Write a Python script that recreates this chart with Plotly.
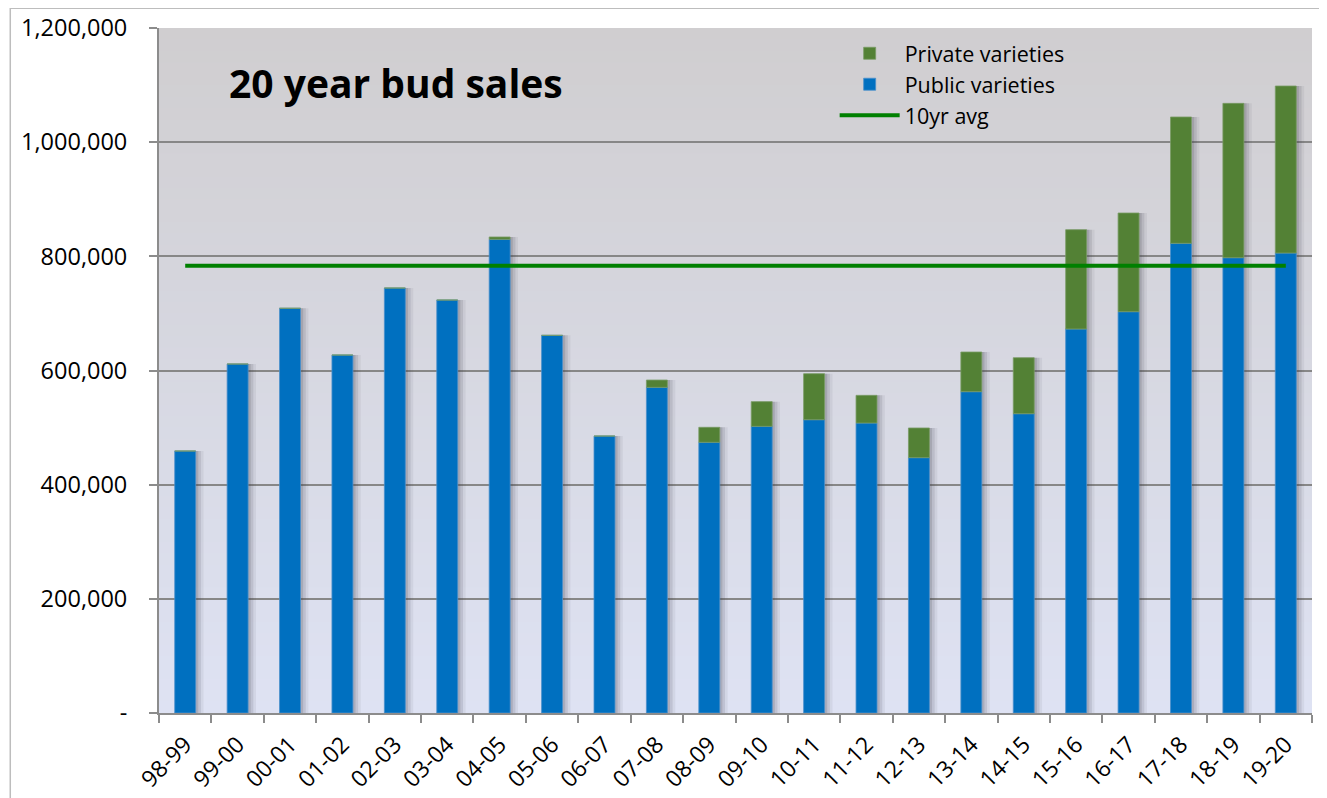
import plotly.graph_objects as go

# ---- data ----
seasons = ["98-99", "99-00", "00-01", "01-02", "02-03", "03-04", "04-05", "05-06",
           "06-07", "07-08", "08-09", "09-10", "10-11", "11-12", "12-13", "13-14",
           "14-15", "15-16", "16-17", "17-18", "18-19", "19-20"]
public_varieties = [459000, 611400, 709000, 627100, 744500, 723500, 829800, 661600,
                    485200, 570500, 474200, 502200, 513800, 508000, 447300, 562900,
                    524300, 672700, 703000, 822800, 797600, 805800]
private_varieties = [0, 0, 0, 0, 0, 0, 4100, 0,
                     0, 12800, 26300, 43200, 80600, 48500, 52000, 69500,
                     98100, 174000, 172900, 221300, 270400, 292600]
avg_10yr = 783600
y_tickvals = [0, 200000, 400000, 600000, 800000, 1000000, 1200000]
y_ticktext = ["-", "200,000", "400,000", "600,000", "800,000", "1,000,000", "1,200,000"]

totals = [a + b for a, b in zip(public_varieties, private_varieties)]

FONT = "Open Sans"
BLUE = "#0070C0"
GREEN = "#538135"
LINE_GREEN = "#008000"
BAR_W = 0.4

fig = go.Figure()

# soft shadows to the right of the bars
for off, alpha in [(0.05, 0.16), (0.10, 0.12), (0.15, 0.07)]:
    fig.add_trace(go.Bar(
        x=seasons, y=totals, width=BAR_W, offset=-BAR_W / 2 + off,
        marker=dict(color=f"rgba(60,60,70,{alpha})", line=dict(width=0)),
        showlegend=False, hoverinfo="skip"))

fig.add_trace(go.Bar(
    x=seasons, y=public_varieties, name="Public varieties", width=BAR_W,
    offset=-BAR_W / 2,
    marker=dict(color=BLUE, line=dict(color="#4A8FCC", width=0.8)),
    legendrank=2))
fig.add_trace(go.Bar(
    x=seasons, y=private_varieties, base=public_varieties, name="Private varieties",
    width=BAR_W, offset=-BAR_W / 2,
    marker=dict(color=GREEN, line=dict(color="#7A9C66", width=0.8)),
    legendrank=1))
fig.add_trace(go.Scatter(
    x=[seasons[0], seasons[-1]], y=[avg_10yr, avg_10yr], mode="lines",
    name="10yr avg", line=dict(color=LINE_GREEN, width=4), legendrank=3))

# gradient plot background (grey at top to pale lavender at bottom)
shapes = []
n = 60
top = (208, 206, 208)
bot = (222, 226, 243)
for i in range(n):
    t = i / (n - 1)
    c = tuple(round(top[k] + (bot[k] - top[k]) * t) for k in range(3))
    shapes.append(dict(type="rect", xref="paper", yref="paper",
                       x0=0, x1=1, y1=1 - i / n, y0=max(0, 1 - (i + 1.6) / n),
                       fillcolor=f"rgb{c}", line=dict(width=0), layer="below"))
# outer chart border
shapes.append(dict(type="rect", xref="paper", yref="paper",
                   x0=-0.129, x1=1.0087, y0=-0.2, y1=1.029,
                   line=dict(color="#BDBDBD", width=1.5), fillcolor="rgba(0,0,0,0)",
                   layer="below"))

# page body has an 8px margin, so the figure is sized to fill the rest
fig.update_layout(
    width=1319, height=790,
    margin=dict(l=151, r=15, t=20, b=85, autoexpand=False),
    paper_bgcolor="white", plot_bgcolor="rgba(0,0,0,0)",
    barmode="overlay",
    font=dict(family=FONT, size=22, color="black"),
    shapes=shapes,
    showlegend=True,
    legend=dict(x=0.586, y=0.993, xanchor="left", yanchor="top",
                bgcolor="rgba(0,0,0,0)", font=dict(family=FONT, size=21.5),
                traceorder="normal", itemwidth=60, tracegroupgap=0),
    annotations=[dict(text="<b>20 year bud sales</b>", xref="paper", yref="paper",
                      x=0.059, y=0.921, xanchor="left", yanchor="middle",
                      showarrow=False, font=dict(family=FONT, size=39, color="black"))],
    bargap=0.6,
)

fig.update_xaxes(
    type="category", categoryorder="array", categoryarray=seasons,
    tickangle=-45, ticks="outside", tickson="boundaries", ticklen=8,
    tickcolor="#8C8C8C", tickwidth=1.5, automargin=False,
    showline=True, linecolor="#8C8C8C", linewidth=2,
    showgrid=False, range=[-0.5, len(seasons) - 0.5],
    tickfont=dict(family=FONT, size=23), ticklabelstandoff=7,
)
fig.update_yaxes(
    range=[0, 1200000], tickvals=y_tickvals, ticktext=y_ticktext,
    ticks="outside", ticklen=8, tickcolor="#8C8C8C", tickwidth=1.5,
    showline=True, linecolor="#8C8C8C", linewidth=2, automargin=False,
    showgrid=True, gridcolor="#878787", gridwidth=1.5,
    zeroline=False, tickfont=dict(family=FONT, size=23.5), ticklabelstandoff=17,
)

fig.write_html("out.html")
